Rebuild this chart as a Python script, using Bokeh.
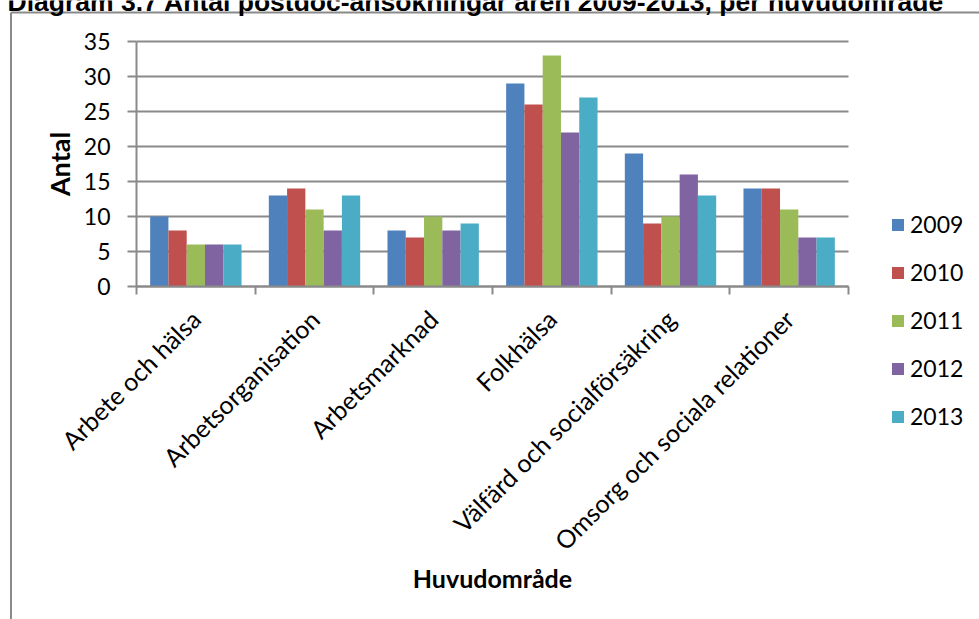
import math
from bokeh.plotting import figure
from bokeh.models import ColumnDataSource, FixedTicker, Range1d, Legend, LegendItem, Label
from bokeh.embed import file_html
from bokeh.resources import INLINE

# ---- data -------------------------------------------------------------
categories = ["Arbete och hälsa", "Arbetsorganisation", "Arbetsmarknad", "Folkhälsa",
              "Välfärd och socialförsäkring", "Omsorg och sociala relationer"]
years = ["2009", "2010", "2011", "2012", "2013"]
v2009 = [10, 13, 8, 29, 19, 14]
v2010 = [8, 14, 7, 26, 9, 14]
v2011 = [6, 11, 10, 33, 10, 11]
v2012 = [6, 8, 8, 22, 16, 7]
v2013 = [6, 13, 9, 27, 13, 7]
series = [v2009, v2010, v2011, v2012, v2013]
colors = ["#4F81BD", "#C0504D", "#9BBB59", "#8064A2", "#4BACC6"]
y_ticks = [0, 5, 10, 15, 20, 25, 30, 35]
title_text = "Diagram 3.7 Antal postdoc-ansökningar åren 2009-2013, per huvudområde"
x_title = "Huvudområde"
y_title = "Antal"

# ---- layout constants (pixels) -----------------------------------------
W, H = 979, 619
PLOT_L, PLOT_R, PLOT_T, PLOT_B = 136, 848, 41, 286
GRAY = "#8a8a8a"
FONT = "Lato"
n = len(categories)
ymax = y_ticks[-1]
px_x = (PLOT_R - PLOT_L) / n          # pixels per category
px_y = (PLOT_B - PLOT_T) / ymax       # pixels per unit

# the frame covers the whole canvas; the axes are fixed at x = 0 / y = 0,
# so that every text (title, legend, rotated labels) is drawn inside it
x_range = Range1d(-PLOT_L / px_x, (W - PLOT_L) / px_x)
y_range = Range1d(-(H - PLOT_B) / px_y, ymax + PLOT_T / px_y)

p = figure(width=W, height=H, output_backend="svg", toolbar_location=None,
           x_range=x_range, y_range=y_range,
           min_border_left=0, min_border_right=0, min_border_top=0,
           min_border_bottom=0)
p.outline_line_color = None
p.background_fill_color = "white"
p.border_fill_color = "white"

# ---- outer chart border (only its left and top edges fall inside the view)
bx = (10.5 - PLOT_L) / px_x
by = (PLOT_B - 12) / px_y
p.segment(x0=[bx, bx], y0=[by, by], x1=[x_range.end + 1, bx], y1=[by, y_range.start - 1],
          line_color=GRAY, line_width=2)

# horizontal grid lines, only across the category area
p.xgrid.visible = False
p.ygrid.visible = False
p.segment(x0=[0] * len(y_ticks), x1=[n] * len(y_ticks), y0=y_ticks, y1=y_ticks,
          line_color=GRAY, line_width=2)

bar_w = 0.154
renderers = []
for i, (yr, vals) in enumerate(zip(years, series)):
    off = (i - (len(years) - 1) / 2) * bar_w
    src = ColumnDataSource(dict(x=[j + 0.5 + off for j in range(n)], top=vals))
    r = p.vbar(x="x", top="top", width=bar_w, bottom=0, source=src,
               fill_color=colors[i], line_color=None)
    renderers.append(r)

# y axis, fixed at x = 0
ya = p.yaxis[0]
ya.fixed_location = 0
ya.bounds = (0, ymax)
ya.ticker = FixedTicker(ticks=y_ticks)
ya.axis_line_color = GRAY
ya.axis_line_width = 2
ya.major_tick_line_color = GRAY
ya.major_tick_line_width = 2
ya.major_tick_out = 9
ya.major_tick_in = 0
ya.minor_tick_line_color = None
ya.major_label_text_font = FONT
ya.major_label_text_font_size = "23px"
ya.major_label_text_color = "black"
ya.major_label_standoff = 17
ya.axis_label = y_title
ya.axis_label_text_font = FONT
ya.axis_label_text_font_size = "27px"
ya.axis_label_text_font_style = "bold"
ya.axis_label_text_color = "black"
ya.axis_label_standoff = 5

# x axis, fixed at y = 0
xa = p.xaxis[0]
xa.fixed_location = 0
xa.bounds = (0, n)
xa.ticker = FixedTicker(ticks=[j + 0.5 for j in range(n)],
                        minor_ticks=list(range(n + 1)))
xa.major_label_overrides = {j + 0.5: c for j, c in enumerate(categories)}
xa.axis_line_color = GRAY
xa.axis_line_width = 2
xa.major_tick_line_color = None
xa.major_tick_out = 0
xa.major_tick_in = 0
xa.minor_tick_line_color = GRAY
xa.minor_tick_line_width = 2
xa.minor_tick_out = 8
xa.minor_tick_in = 0
xa.major_label_orientation = math.pi / 4
xa.major_label_text_font = FONT
xa.major_label_text_font_size = "25px"
xa.major_label_text_color = "black"
xa.major_label_standoff = 20
xa.axis_label = x_title
xa.axis_label_text_font = FONT
xa.axis_label_text_font_size = "25px"
xa.axis_label_text_font_style = "bold"
xa.axis_label_text_color = "black"
xa.axis_label_standoff = -6

# ---- chart title (top part cut off, as in the reference) -------------
title = Label(x=7, y=H - 1, x_units="screen", y_units="screen",
              text=title_text, text_font="Liberation Sans", text_font_style="bold",
              text_font_size="26.5px", text_color="black",
              text_baseline="alphabetic", text_align="left")
p.add_layout(title)

# ---- legend ------------------------------------------------------------
legend = Legend(items=[LegendItem(label=y, renderers=[r]) for y, r in zip(years, renderers)],
                location=(890, 189), orientation="vertical",
                glyph_width=15, glyph_height=15, label_height=15, label_standoff=5,
                spacing=20, padding=0, margin=0,
                border_line_color=None, background_fill_alpha=0,
                label_text_font=FONT, label_text_font_size="23px",
                label_text_color="black")
p.add_layout(legend, "center")

open("out.html", "w").write(file_html(p, INLINE))
